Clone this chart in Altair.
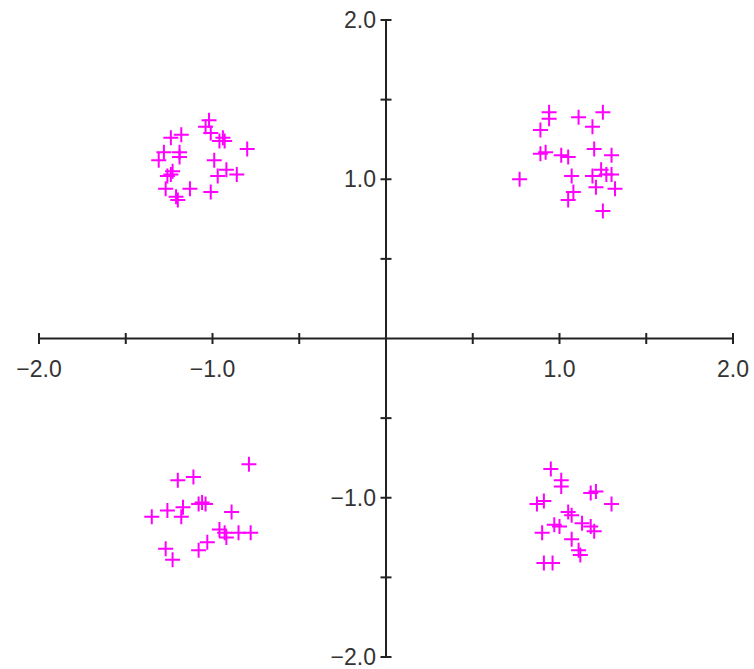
import altair as alt
import pandas as pd

# Cluster points (x, y)
ul_x = [-1.02, -1.04, -1.01, -0.94, -0.93, -0.96, -0.80, -0.99, -0.92, -0.86, -0.97, -1.01,
        -1.13, -1.21, -1.20, -1.27, -1.24, -1.23, -1.26, -1.31, -1.28, -1.24, -1.18, -1.19, -1.19]
ul_y = [1.37, 1.33, 1.29, 1.26, 1.24, 1.24, 1.19, 1.12, 1.06, 1.03, 1.02, 0.92,
        0.94, 0.89, 0.87, 0.94, 1.03, 1.05, 1.02, 1.12, 1.17, 1.26, 1.28, 1.17, 1.14]

ur_x = [0.77, 0.89, 0.94, 0.94, 1.11, 1.25, 1.19, 0.89, 0.92, 1.01, 1.05, 1.20,
        1.30, 1.07, 1.19, 1.24, 1.27, 1.30, 1.21, 1.32, 1.08, 1.05, 1.25]
ur_y = [1.00, 1.31, 1.42, 1.38, 1.39, 1.42, 1.33, 1.16, 1.17, 1.15, 1.14, 1.19,
        1.15, 1.02, 1.02, 1.06, 1.03, 1.03, 0.95, 0.94, 0.92, 0.87, 0.80]

ll_x = [-0.79, -1.11, -1.20, -1.08, -1.06, -1.04, -1.17, -1.26, -1.35, -1.18, -0.89,
        -0.96, -0.93, -0.92, -0.85, -0.78, -1.03, -1.08, -1.27, -1.23]
ll_y = [-0.79, -0.87, -0.89, -1.04, -1.03, -1.04, -1.06, -1.08, -1.12, -1.12, -1.09,
        -1.20, -1.22, -1.25, -1.22, -1.22, -1.28, -1.33, -1.32, -1.39]

lr_x = [0.95, 1.01, 1.01, 1.18, 1.21, 1.30, 0.87, 0.91, 1.05, 1.07, 0.97, 1.00,
        1.13, 1.18, 1.20, 0.90, 1.07, 1.11, 1.12, 0.91, 0.96]
lr_y = [-0.82, -0.89, -0.93, -0.97, -0.96, -1.04, -1.04, -1.02, -1.09, -1.11, -1.17, -1.18,
        -1.16, -1.18, -1.21, -1.22, -1.26, -1.33, -1.36, -1.41, -1.41]

tick_values = [-2.0, -1.5, -1.0, -0.5, 0.5, 1.0, 1.5, 2.0]
label_values = [-2.0, -1.0, 1.0, 2.0]
label_texts = ["\u22122.0", "\u22121.0", "1.0", "2.0"]

pts = pd.DataFrame({
    "x": ul_x + ur_x + ll_x + lr_x,
    "y": ul_y + ur_y + ll_y + lr_y,
})

xs = alt.Scale(domain=[-2, 2], nice=False, zero=False)
ys = alt.Scale(domain=[-2, 2], nice=False, zero=False)

axis_color = "#222222"
font = "Liberation Sans"

hline = alt.Chart(pd.DataFrame({"x": [-2.0], "x2": [2.0], "y": [0.0]})).mark_rule(
    color=axis_color, strokeWidth=2
).encode(
    x=alt.X("x:Q", scale=xs, axis=None),
    x2="x2:Q",
    y=alt.Y("y:Q", scale=ys, axis=None),
)

vline = alt.Chart(pd.DataFrame({"x": [0.0], "y": [-2.0], "y2": [2.0]})).mark_rule(
    color=axis_color, strokeWidth=2
).encode(
    x=alt.X("x:Q", scale=xs, axis=None),
    y=alt.Y("y:Q", scale=ys, axis=None),
    y2="y2:Q",
)

ticks_df = pd.DataFrame({"v": tick_values, "z": [0.0] * len(tick_values)})

xticks = alt.Chart(ticks_df).mark_tick(
    orient="vertical", size=11, thickness=2, color=axis_color, opacity=1
).encode(
    x=alt.X("v:Q", scale=xs, axis=None),
    y=alt.Y("z:Q", scale=ys, axis=None),
)

yticks = alt.Chart(ticks_df).mark_tick(
    orient="horizontal", size=11, thickness=2, color=axis_color, opacity=1
).encode(
    x=alt.X("z:Q", scale=xs, axis=None),
    y=alt.Y("v:Q", scale=ys, axis=None),
)

labels_df = pd.DataFrame({"v": label_values, "t": label_texts, "z": [0.0] * len(label_values)})

xlabels = alt.Chart(labels_df).mark_text(
    font=font, fontSize=23, color="#333333", align="center", baseline="middle", dy=31
).encode(
    x=alt.X("v:Q", scale=xs, axis=None),
    y=alt.Y("z:Q", scale=ys, axis=None),
    text="t:N",
)

ylabels = alt.Chart(labels_df).mark_text(
    font=font, fontSize=23, color="#333333", align="right", baseline="middle", dx=-10, dy=1
).encode(
    x=alt.X("z:Q", scale=xs, axis=None),
    y=alt.Y("v:Q", scale=ys, axis=None),
    text="t:N",
)

points = alt.Chart(pts).mark_point(
    shape="M-1,0L1,0M0,-1L0,1", filled=False, stroke="#ff00ff", strokeWidth=2,
    size=225, opacity=1
).encode(
    x=alt.X("x:Q", scale=xs, axis=None),
    y=alt.Y("y:Q", scale=ys, axis=None),
)

chart = alt.layer(hline, vline, xticks, yticks, xlabels, ylabels, points).properties(
    width=694, height=637,
    padding={"left": 39, "top": 20, "right": 21, "bottom": 12},
    autosize=alt.AutoSizeParams(type="none"),
    background="white",
).configure_view(stroke=None)

chart.save("out.html", embed_options={"renderer": "svg", "actions": False})
